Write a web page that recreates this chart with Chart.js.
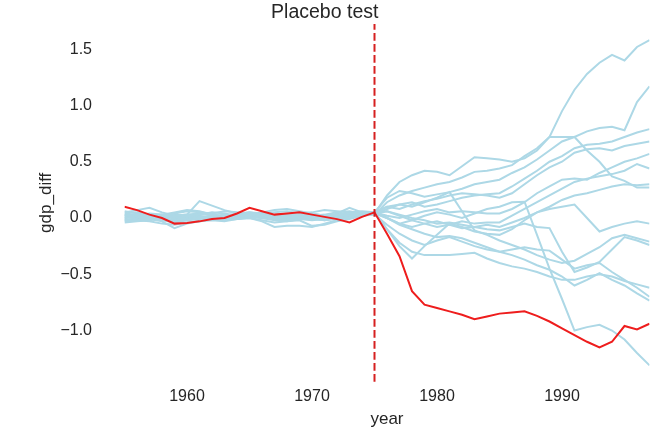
<!DOCTYPE html>
<html>
<head>
<meta charset="utf-8">
<script src="https://cdn.jsdelivr.net/npm/chart.js@4/dist/chart.umd.min.js"></script>
<style>
  html, body { margin: 0; padding: 0; background: #ffffff; }
  #wrap { width: 672px; height: 435px; position: relative; }
</style>
</head>
<body>
<div id="wrap"><canvas id="c" width="672" height="435"></canvas></div>
<script>
const years = [1955,1956,1957,1958,1959,1960,1961,1962,1963,1964,1965,1966,1967,1968,1969,1970,1971,1972,1973,1974,
               1975,1976,1977,1978,1979,1980,1981,1982,1983,1984,1985,1986,1987,1988,1989,1990,1991,1992,1993,1994,1995,1996,1997];
const xTicks = [1960, 1970, 1980, 1990];
const yTicks = [-1.0, -0.5, 0.0, 0.5, 1.0, 1.5];
const treatmentYear = 1975;
const yMin = -1.455, yMax = 1.725;

const treated = [0.10,0.07,0.03,0.00,-0.05,-0.045,-0.03,-0.01,0.00,0.04,0.09,0.06,0.03,0.04,0.05,0.03,0.01,-0.01,-0.04,0.01,
                 0.05,-0.14,-0.34,-0.65,-0.77,-0.80,-0.83,-0.86,-0.90,-0.875,-0.85,-0.84,-0.83,-0.87,-0.92,-0.98,-1.04,-1.10,-1.15,-1.10,-0.96,-0.99,-0.94];

const placebo01 = [0.02,0.03,0.01,-0.02,-0.04,-0.02,0.00,0.02,0.01,0.03,0.05,0.04,0.02,0.03,0.04,0.02,0.01,0.03,0.02,0.03,
                   0.04,0.20,0.32,0.38,0.42,0.41,0.38,0.46,0.54,0.53,0.52,0.50,0.53,0.60,0.72,0.95,1.14,1.28,1.38,1.45,1.40,1.52,1.58];
const placebo02 = [-0.03,-0.02,0.00,0.02,0.01,-0.01,0.00,0.01,0.03,0.02,0.04,0.02,0.01,0.00,0.02,0.03,0.02,0.01,0.04,0.03,
                   0.03,0.14,0.20,0.24,0.27,0.30,0.32,0.36,0.41,0.42,0.44,0.47,0.55,0.62,0.72,0.72,0.72,0.77,0.80,0.81,0.78,1.03,1.17];
const placebo03 = [0.05,0.07,0.09,0.05,0.02,0.03,0.15,0.11,0.07,0.04,0.02,0.03,0.01,0.02,0.03,0.04,0.02,0.01,0.03,0.04,
                   0.05,0.18,0.24,0.22,0.19,0.21,0.23,0.26,0.30,0.32,0.34,0.40,0.45,0.52,0.60,0.68,0.72,0.60,0.50,0.37,0.33,0.27,0.27];
const placebo04 = [0.00,0.02,0.04,0.03,0.05,0.07,0.06,0.03,0.01,0.02,0.03,0.05,0.07,0.08,0.06,0.04,0.02,0.03,0.05,0.04,
                   0.04,0.08,0.12,0.14,0.10,0.12,0.15,0.18,0.20,0.21,0.22,0.28,0.35,0.42,0.50,0.55,0.62,0.65,0.66,0.68,0.72,0.76,0.79];
const placebo05 = [-0.04,-0.03,-0.02,0.00,-0.02,-0.01,0.01,0.00,-0.02,-0.01,0.00,-0.03,-0.08,-0.07,-0.07,-0.08,-0.05,-0.02,0.01,0.03,
                   0.05,0.10,0.08,0.12,0.15,0.17,0.20,0.22,0.21,0.20,0.18,0.22,0.30,0.38,0.45,0.50,0.58,0.61,0.62,0.60,0.64,0.66,0.68];
const placebo06 = [0.03,0.01,-0.01,-0.03,-0.09,-0.05,-0.03,-0.01,0.00,0.01,0.00,0.02,0.01,0.00,0.01,0.00,-0.02,-0.01,0.00,0.02,
                   0.05,0.02,0.00,0.03,0.06,0.08,0.05,0.06,0.05,0.04,0.04,0.08,0.14,0.22,0.28,0.34,0.35,0.34,0.40,0.45,0.50,0.53,0.57];
const placebo07 = [-0.02,0.00,0.02,0.01,0.00,0.02,0.03,0.05,0.04,0.02,0.01,0.00,-0.01,0.00,0.02,0.01,0.00,0.04,0.09,0.05,
                   0.04,0.06,0.02,-0.02,-0.05,-0.08,-0.06,-0.03,-0.05,-0.04,-0.04,0.02,0.08,0.14,0.20,0.26,0.32,0.35,0.37,0.39,0.42,0.48,0.44];
const placebo08 = [0.01,0.00,-0.01,-0.02,-0.01,0.00,0.01,0.00,-0.01,0.00,0.01,0.00,-0.02,-0.03,-0.02,-0.07,-0.06,-0.03,-0.01,0.02,
                   0.04,0.00,-0.05,-0.08,-0.05,-0.03,-0.06,-0.09,-0.08,-0.06,-0.08,-0.04,0.00,0.05,0.08,0.10,0.12,0.00,-0.12,-0.08,-0.05,-0.03,-0.05];
const placebo09 = [0.04,0.05,0.03,0.02,0.04,0.06,0.05,0.04,0.06,0.05,0.03,0.04,0.05,0.06,0.04,0.05,0.07,0.06,0.05,0.06,
                   0.05,0.10,0.12,0.10,0.14,0.18,0.23,0.06,-0.11,-0.15,-0.20,-0.24,-0.28,-0.33,-0.37,-0.40,-0.38,-0.32,-0.26,-0.18,-0.15,-0.18,-0.21];
const placebo10 = [-0.01,-0.02,-0.03,-0.05,-0.06,-0.04,-0.03,-0.02,-0.03,-0.01,0.00,-0.02,-0.04,-0.03,-0.01,-0.02,-0.01,0.00,0.02,0.03,
                   0.04,0.06,0.03,0.00,-0.02,-0.05,-0.04,-0.06,-0.08,-0.10,-0.11,-0.08,-0.05,-0.08,-0.09,-0.30,-0.48,-0.44,-0.39,-0.28,-0.17,-0.20,-0.24];
const placebo11 = [0.06,0.04,0.02,0.01,0.00,0.01,0.02,0.00,-0.01,0.01,0.02,0.01,-0.01,-0.02,0.00,0.01,0.02,0.03,0.04,0.05,
                   0.05,-0.10,-0.22,-0.30,-0.33,-0.33,-0.33,-0.32,-0.31,-0.36,-0.40,-0.43,-0.45,-0.48,-0.52,-0.55,-0.55,-0.52,-0.50,-0.52,-0.56,-0.59,-0.62];
const placebo12 = [0.00,0.01,0.00,-0.01,-0.03,-0.02,-0.01,0.01,0.02,0.01,0.02,0.03,0.02,0.01,0.00,-0.01,-0.02,0.00,0.02,0.03,
                   0.05,0.00,-0.06,-0.10,-0.14,-0.17,-0.16,-0.18,-0.22,-0.26,-0.30,-0.28,-0.26,-0.28,-0.29,-0.37,-0.45,-0.42,-0.40,-0.48,-0.55,-0.62,-0.70];
const placebo13 = [0.03,0.02,0.01,0.00,0.02,0.03,0.04,0.03,0.02,0.04,0.05,0.03,0.01,0.02,0.03,0.02,0.01,0.02,0.03,0.02,
                   0.03,-0.06,-0.14,-0.20,-0.24,-0.20,-0.17,-0.21,-0.25,-0.28,-0.30,-0.33,-0.37,-0.42,-0.46,-0.52,-0.60,-0.55,-0.49,-0.55,-0.60,-0.67,-0.735];
const placebo14 = [-0.02,-0.01,0.01,0.03,0.02,0.00,-0.02,-0.01,0.00,0.02,0.03,0.01,0.00,-0.01,0.01,0.02,0.03,0.05,0.06,0.04,
                   0.05,0.00,-0.05,-0.02,0.02,0.05,0.03,0.00,0.04,0.08,0.10,0.14,0.145,-0.15,-0.45,-0.72,-1.00,-0.97,-0.95,-1.00,-1.08,-1.20,-1.31];
const placebo15 = [0.02,0.01,0.00,0.01,0.03,0.02,0.01,0.02,0.00,-0.01,0.01,0.02,0.03,0.04,0.02,0.01,-0.01,0.01,0.03,0.04,
                   0.05,-0.10,-0.25,-0.36,-0.25,-0.15,-0.05,-0.08,-0.12,-0.14,-0.15,-0.10,-0.02,0.05,0.10,0.16,0.20,0.22,0.25,0.28,0.30,0.29,0.30];

const placebos = [placebo01,placebo02,placebo03,placebo04,placebo05,placebo06,placebo07,placebo08,
                  placebo09,placebo10,placebo11,placebo12,placebo13,placebo14,placebo15];

const toXY = arr => years.map((yr, i) => ({x: yr, y: arr[i]}));
const FONT = "'Liberation Sans', Arial, Helvetica, sans-serif";
const TXT = '#262626';

const datasets = [
  { data: [{x: treatmentYear, y: yMin}, {x: treatmentYear, y: yMax}],
    borderColor: '#d62020', borderWidth: 2, borderDash: [7.7, 3.3], pointRadius: 0, tension: 0, clip: false },
  { data: toXY(treated), borderColor: '#ee1d1d', borderWidth: 2, pointRadius: 0, tension: 0 }
];
placebos.forEach(p => datasets.push({ data: toXY(p), borderColor: '#add8e6', borderWidth: 2, pointRadius: 0, tension: 0 }));

new Chart(document.getElementById('c'), {
  type: 'line',
  data: { datasets },
  options: {
    responsive: false,
    animation: false,
    devicePixelRatio: 1,
    layout: { padding: { left: 0, right: 22.5, top: 0, bottom: 0 } },
    plugins: {
      legend: { display: false },
      tooltip: { enabled: false },
      title: {
        display: true, text: 'Placebo test', color: TXT,
        font: { family: FONT, size: 19.5, weight: 'normal', lineHeight: 1.0 },
        padding: { top: 2.6, bottom: 1.8 }
      }
    },
    scales: {
      x: {
        type: 'linear', min: 1955, max: 1997,
        grid: { display: false, drawTicks: false },
        border: { display: false },
        afterBuildTicks: s => { s.ticks = xTicks.map(v => ({ value: v })); },
        afterFit: s => { s.height = 53.3; s.paddingLeft = 0; s.paddingRight = 0; },
        ticks: { color: TXT, padding: 5, font: { family: FONT, size: 16 }, callback: v => String(v) },
        title: { display: true, text: 'year', color: TXT, font: { family: FONT, size: 17 }, padding: { top: 0, bottom: 5.8 } }
      },
      y: {
        type: 'linear', min: yMin, max: yMax,
        grid: { display: false, drawTicks: false },
        border: { display: false },
        afterBuildTicks: s => { s.ticks = yTicks.map(v => ({ value: v })); },
        afterFit: s => { s.width = 124.5; s.paddingTop = 0; s.paddingBottom = 0; },
        ticks: { color: TXT, padding: 32.5, font: { family: FONT, size: 16 },
                 callback: v => (v < 0 ? '\u2212' : '') + Math.abs(v).toFixed(1) },
        title: { display: true, text: 'gdp_diff', color: TXT, font: { family: FONT, size: 17 }, padding: { top: 36, bottom: 0 } }
      }
    }
  }
});
</script>
</body>
</html>
